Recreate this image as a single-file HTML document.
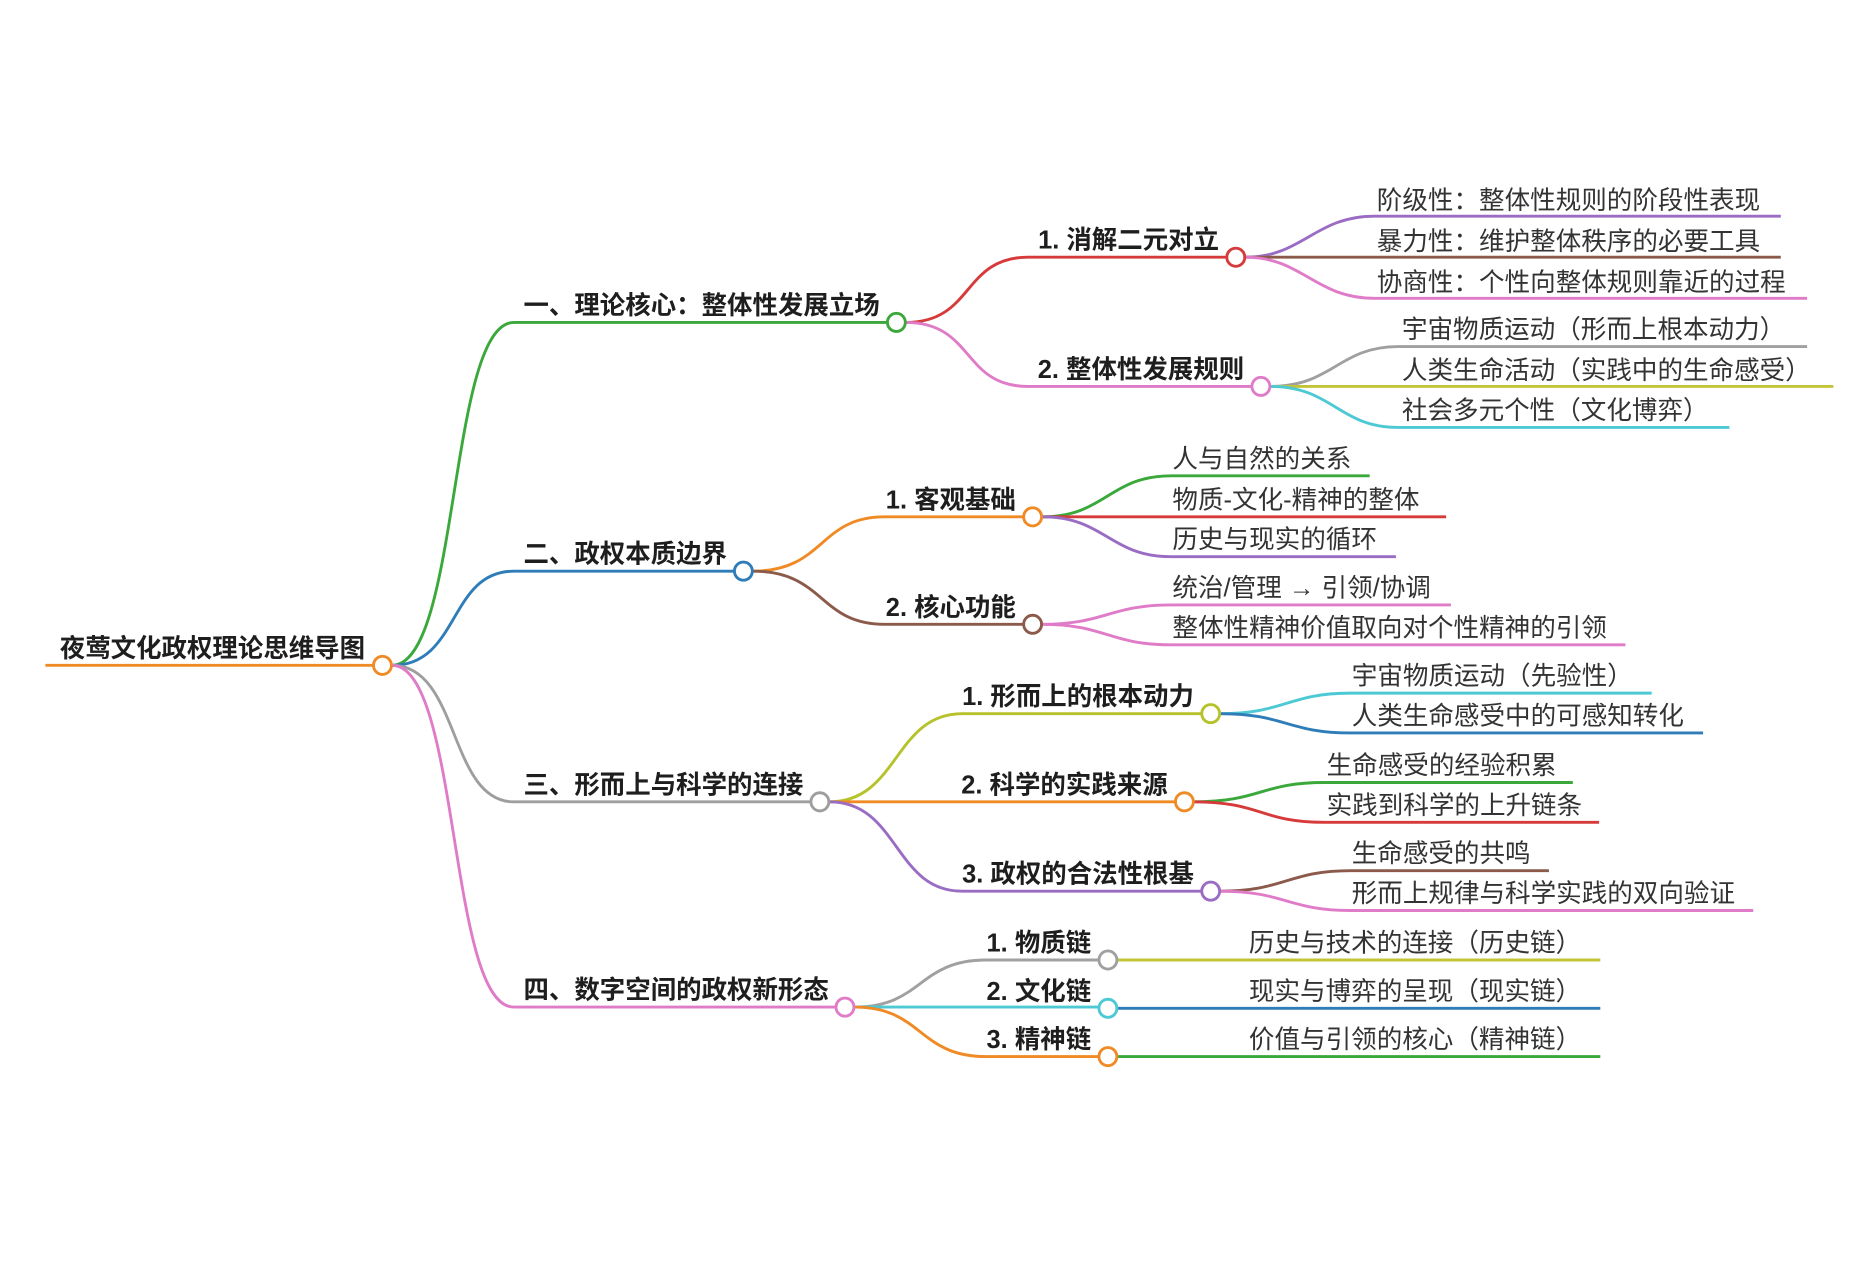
<!DOCTYPE html>
<html><head><meta charset="utf-8"><style>
html,body{margin:0;padding:0;background:#fff;}
svg{display:block}
text{font-family:"Liberation Sans","Noto Sans CJK SC",sans-serif;fill:#1e1e1e;}
.b{font-weight:bold;font-size:21.3px}
.l{font-size:21.4px;fill:#333}
path{fill:none;stroke-width:2.4}
circle{fill:#fff;stroke-width:2.4}
</style></head><body>
<svg width="1874" height="1280" viewBox="0 0 1568 1060" preserveAspectRatio="none" xmlns="http://www.w3.org/2000/svg">
<g transform="translate(0,-3)">
<path d="M38,554 H312" stroke="#f08a24"/>
<text class="b" x="50" y="547">夜莺文化政权理论思维导图</text>

<path d="M328,554 C385,554 375,270 430,270 H742" stroke="#3aa83a"/>
<path d="M328,554 C385,554 375,476 430,476 H614" stroke="#2e7cb8"/>
<path d="M328,554 C385,554 375,667 430,667 H678" stroke="#9e9e9e"/>
<path d="M328,554 C385,554 375,837 430,837 H699" stroke="#e07bc8"/>
<text class="b" x="438" y="263">一、理论核心：整体性发展立场</text>
<text class="b" x="438" y="469">二、政权本质边界</text>
<text class="b" x="438" y="660">三、形而上与科学的连接</text>
<text class="b" x="438" y="830">四、数字空间的政权新形态</text>

<path d="M758,270 C815,270 805,216 860,216 H1026" stroke="#d63a3a"/>
<path d="M758,270 C815,270 805,323 860,323 H1047" stroke="#e07bc8"/>
<text class="b" x="1020" y="209" text-anchor="end">1. 消解二元对立</text>
<text class="b" x="1041" y="316" text-anchor="end">2. 整体性发展规则</text>
<path d="M1042,216 C1090,216 1100,182 1150,182 H1490" stroke="#9a6cc4"/>
<path d="M1042,216 H1490" stroke="#8b5a4a"/>
<path d="M1042,216 C1090,216 1100,250 1150,250 H1512" stroke="#e07bc8"/>
<text class="l" x="1152" y="176">阶级性：整体性规则的阶段性表现</text>
<text class="l" x="1152" y="210">暴力性：维护整体秩序的必要工具</text>
<text class="l" x="1152" y="244">协商性：个性向整体规则靠近的过程</text>
<path d="M1063,323 C1115,323 1120,290 1170,290 H1512" stroke="#a0a0a0"/>
<path d="M1063,323 H1534" stroke="#c4c43a"/>
<path d="M1063,323 C1115,323 1120,357 1170,357 H1447" stroke="#4cc9d4"/>
<text class="l" x="1173" y="283">宇宙物质运动（形而上根本动力）</text>
<text class="l" x="1173" y="317">人类生命活动（实践中的生命感受）</text>
<text class="l" x="1173" y="350">社会多元个性（文化博弈）</text>

<path d="M630,476 C690,476 685,431 740,431 H856" stroke="#f08a24"/>
<path d="M630,476 C690,476 685,520 740,520 H856" stroke="#8b5a4a"/>
<text class="b" x="850" y="424" text-anchor="end">1. 客观基础</text>
<text class="b" x="850" y="513" text-anchor="end">2. 核心功能</text>
<path d="M872,431 C925,431 928,397 980,397 H1146" stroke="#3aa83a"/>
<path d="M872,431 H1210" stroke="#d63a3a"/>
<path d="M872,431 C925,431 928,464 980,464 H1168" stroke="#9a6cc4"/>
<text class="l" x="981" y="390">人与自然的关系</text>
<text class="l" x="981" y="424">物质-文化-精神的整体</text>
<text class="l" x="981" y="457">历史与现实的循环</text>
<path d="M872,520 C925,520 928,504 980,504 H1214" stroke="#e07bc8"/>
<path d="M872,520 C925,520 928,537 980,537 H1360" stroke="#e07bc8"/>
<text class="l" x="981" y="497">统治/管理 → 引领/协调</text>
<text class="l" x="981" y="530">整体性精神价值取向对个性精神的引领</text>

<path d="M694,667 C752,667 748,594 805,594 H1005" stroke="#b5c22a"/>
<path d="M694,667 H983" stroke="#f08a24"/>
<path d="M694,667 C752,667 748,741 805,741 H1005" stroke="#9a6cc4"/>
<text class="b" x="999" y="587" text-anchor="end">1. 形而上的根本动力</text>
<text class="b" x="977" y="660" text-anchor="end">2. 科学的实践来源</text>
<text class="b" x="999" y="734" text-anchor="end">3. 政权的合法性根基</text>
<path d="M1021,594 C1075,594 1078,577 1130,577 H1382" stroke="#4cc9d4"/>
<path d="M1021,594 C1075,594 1078,610 1130,610 H1425" stroke="#2e7cb8"/>
<text class="l" x="1131" y="570">宇宙物质运动（先验性）</text>
<text class="l" x="1131" y="603">人类生命感受中的可感知转化</text>
<path d="M999,667 C1055,667 1055,651 1108,651 H1316" stroke="#3aa83a"/>
<path d="M999,667 C1055,667 1055,684 1108,684 H1338" stroke="#d63a3a"/>
<text class="l" x="1110" y="644">生命感受的经验积累</text>
<text class="l" x="1110" y="677">实践到科学的上升链条</text>
<path d="M1021,741 C1075,741 1078,724 1130,724 H1296" stroke="#8b5a4a"/>
<path d="M1021,741 C1075,741 1078,757 1130,757 H1467" stroke="#e07bc8"/>
<text class="l" x="1131" y="717">生命感受的共鸣</text>
<text class="l" x="1131" y="750">形而上规律与科学实践的双向验证</text>

<path d="M715,837 C772,837 768,798 825,798 H919" stroke="#a0a0a0"/>
<path d="M715,837 H919" stroke="#4cc9d4"/>
<path d="M715,837 C772,837 768,878 825,878 H919" stroke="#f08a24"/>
<text class="b" x="913" y="791" text-anchor="end">1. 物质链</text>
<text class="b" x="913" y="831" text-anchor="end">2. 文化链</text>
<text class="b" x="913" y="871" text-anchor="end">3. 精神链</text>
<path d="M935,798 H1339" stroke="#c4c43a"/>
<path d="M935,838 H1339" stroke="#2e7cb8"/>
<path d="M935,878 H1339" stroke="#3aa83a"/>
<text class="l" x="1045" y="791">历史与技术的连接（历史链）</text>
<text class="l" x="1045" y="831">现实与博弈的呈现（现实链）</text>
<text class="l" x="1045" y="871">价值与引领的核心（精神链）</text>

<circle cx="320" cy="554" r="7.5" stroke="#f08a24"/>
<circle cx="750" cy="270" r="7.5" stroke="#3aa83a"/>
<circle cx="622" cy="476" r="7.5" stroke="#2e7cb8"/>
<circle cx="686" cy="667" r="7.5" stroke="#9e9e9e"/>
<circle cx="707" cy="837" r="7.5" stroke="#e07bc8"/>
<circle cx="1034" cy="216" r="7.5" stroke="#d63a3a"/>
<circle cx="1055" cy="323" r="7.5" stroke="#e07bc8"/>
<circle cx="864" cy="431" r="7.5" stroke="#f08a24"/>
<circle cx="864" cy="520" r="7.5" stroke="#8b5a4a"/>
<circle cx="1013" cy="594" r="7.5" stroke="#b5c22a"/>
<circle cx="991" cy="667" r="7.5" stroke="#f08a24"/>
<circle cx="1013" cy="741" r="7.5" stroke="#9a6cc4"/>
<circle cx="927" cy="798" r="7.5" stroke="#a0a0a0"/>
<circle cx="927" cy="838" r="7.5" stroke="#4cc9d4"/>
<circle cx="927" cy="878" r="7.5" stroke="#f08a24"/>
</g>
</svg>
</body></html>
